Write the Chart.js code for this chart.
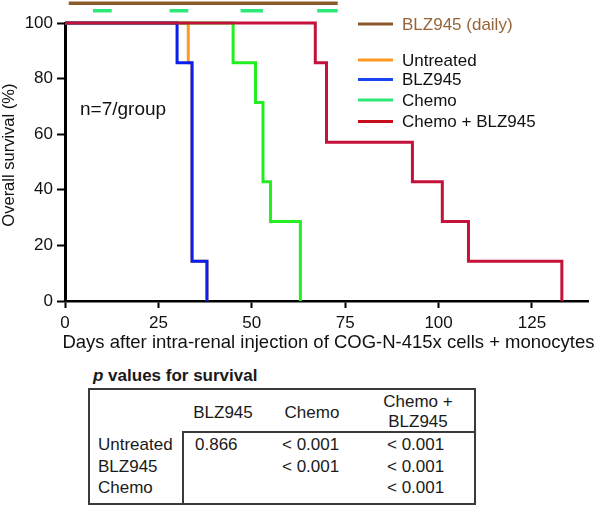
<!DOCTYPE html>
<html><head><meta charset="utf-8">
<script src="https://cdn.jsdelivr.net/npm/chart.js@4"></script>
<style>
html,body{margin:0;padding:0;background:#fff;}
#wrap{position:relative;width:600px;height:507px;overflow:hidden;font-family:"Liberation Sans",Arial,sans-serif;color:#1a1a1a;}
#c{position:absolute;left:0;top:0;}
.t{position:absolute;white-space:nowrap;font-size:17px;line-height:20px;height:20px;}
.ln{position:absolute;background:#3a3a3a;}
</style></head>
<body><div id="wrap"><canvas id="c" width="600" height="360"></canvas><div id="tbl"></div></div>
<script>
// ---- data ----
const xTickValues = [0, 25, 50, 75, 100, 125];
const yTickValues = [0, 20, 40, 60, 80, 100];
const seriesNames = ['Untreated', 'BLZ945', 'Chemo', 'Chemo + BLZ945'];
const untreatedDays = [0, 33, 34, 38];
const untreatedSurvival = [100, 85.7, 14.3, 0];
const blzDays = [0, 30, 34, 38];
const blzSurvival = [100, 85.7, 14.3, 0];
const chemoDays = [0, 45, 51, 53, 55, 63];
const chemoSurvival = [100, 85.7, 71.4, 42.9, 28.6, 0];
const comboDays = [0, 67, 70, 93, 101, 108, 133];
const comboSurvival = [100, 85.7, 57.1, 42.9, 28.6, 14.3, 0];
const blzDailyLabel = 'BLZ945 (daily)';
const blzDailySpan = [1, 73];
const chemoDoseStarts = [7.5, 28, 47, 67.5];
const chemoDoseEnds = [12.5, 33, 53, 73];
const groupNote = 'n=7/group';
const xTitle = 'Days after intra-renal injection of COG-N-415x cells + monocytes';
const yTitle = 'Overall survival (%)';
const tableTitleP = 'p';
const tableTitleRest = ' values for survival';
const tableColumns = [['BLZ945'], ['Chemo'], ['Chemo +', 'BLZ945']];
const tableRows = ['Untreated', 'BLZ945', 'Chemo'];
const pValues = [['0.866', '< 0.001', '< 0.001'], ['', '< 0.001', '< 0.001'], ['', '', '< 0.001']];

// ---- styles ----
const C_ORANGE = '#ff991f', C_BLUE = '#0a1ef0', C_GREEN = '#22ee22', C_RED = '#c4123a';
const C_BROWN = '#8b5a2b', C_BROWN_TXT = '#956439', C_DOSE = '#2ee87a';
const BAR_Y = 107.1, DOSE_Y = 104.4;
const FONT = '"Liberation Sans", Arial, sans-serif';

const pts = (xs, ys) => xs.map((x, i) => ({x, y: ys[i]}));
const base = {pointRadius: 0, borderWidth: 3, clip: false, fill: false, tension: 0, stepped: true, borderCapStyle: 'butt', borderJoinStyle: 'miter'};

const overlay = {
  id: 'overlay',
  afterDatasetsDraw(chart) {
    const ctx = chart.ctx;
    ctx.save();
    const items = [
      {label: blzDailyLabel, color: C_BROWN, text: C_BROWN_TXT, y: 24},
      {label: seriesNames[0], color: C_ORANGE, text: '#111', y: 60},
      {label: seriesNames[1], color: '#1a44f0', text: '#111', y: 79.5},
      {label: seriesNames[2], color: C_DOSE, text: '#111', y: 100},
      {label: seriesNames[3], color: '#c80f1e', text: '#111', y: 121.5}
    ];
    ctx.font = '17px ' + FONT;
    ctx.textBaseline = 'middle';
    ctx.textAlign = 'left';
    items.forEach(it => {
      ctx.strokeStyle = it.color;
      ctx.lineWidth = 3;
      ctx.beginPath();
      ctx.moveTo(358, it.y);
      ctx.lineTo(393, it.y);
      ctx.stroke();
      ctx.fillStyle = it.text;
      ctx.fillText(it.label, 402, it.y + 1);
    });
    ctx.font = '19px ' + FONT;
    ctx.fillStyle = '#111';
    ctx.fillText(groupNote, 80, 110);
    // x-axis title (drawn without width compression)
    ctx.font = '18.5px ' + FONT;
    ctx.textAlign = 'center';
    const xs = chart.scales.x;
    ctx.fillText(xTitle, (xs.left + xs.right) / 2 + 2, 343);
    ctx.restore();
  }
};

new Chart(document.getElementById('c'), {
  type: 'line',
  data: {
    datasets: [
      Object.assign({}, base, {label: seriesNames[3], data: pts(comboDays, comboSurvival), borderColor: C_RED, order: 0}),
      Object.assign({}, base, {label: seriesNames[1], data: pts(blzDays, blzSurvival), borderColor: C_BLUE, order: 1}),
      Object.assign({}, base, {label: seriesNames[2], data: pts(chemoDays, chemoSurvival), borderColor: C_GREEN, order: 2}),
      Object.assign({}, base, {label: seriesNames[0], data: pts(untreatedDays, untreatedSurvival), borderColor: C_ORANGE, order: 3}),
      Object.assign({}, base, {label: blzDailyLabel, stepped: false, borderWidth: 3.5, data: blzDailySpan.map(x => ({x, y: BAR_Y})), borderColor: C_BROWN, order: 4}),
      Object.assign({}, base, {label: 'Chemo dosing', stepped: false, spanGaps: false, borderWidth: 3.5,
        data: chemoDoseStarts.flatMap((s, i) => [{x: s, y: DOSE_Y}, {x: chemoDoseEnds[i], y: DOSE_Y}, {x: chemoDoseEnds[i] + 1, y: null}]),
        borderColor: C_DOSE, order: 5})
    ]
  },
  options: {
    responsive: false,
    animation: false,
    devicePixelRatio: 1,
    layout: {padding: {top: 23, right: 12, left: 0, bottom: 0}},
    plugins: {legend: {display: false}, tooltip: {enabled: false}},
    scales: {
      x: {
        type: 'linear', min: 0, max: 140,
        afterFit: s => { s.height = 59; },
        afterBuildTicks: s => { s.ticks = xTickValues.map(v => ({value: v})); },
        border: {display: true, color: '#000', width: 2.5},
        grid: {display: true, drawOnChartArea: false, drawTicks: true, tickLength: 7, tickWidth: 2, tickColor: '#000'},
        ticks: {color: '#111', font: {family: FONT, size: 17}, padding: 5, maxRotation: 0},
        title: {display: false}
      },
      y: {
        type: 'linear', min: 0, max: 100,
        afterFit: s => { s.width = 65; },
        afterBuildTicks: s => { s.ticks = yTickValues.map(v => ({value: v})); },
        border: {display: true, color: '#000', width: 3},
        grid: {display: true, drawOnChartArea: false, drawTicks: true, tickLength: 8, tickWidth: 2, tickColor: '#000'},
        ticks: {color: '#111', font: {family: FONT, size: 17}, padding: 4},
        title: {display: true, text: '   ' + yTitle, color: '#111', font: {family: FONT, size: 16.5}, padding: {top: 0, bottom: 0}}
      }
    }
  },
  plugins: [overlay]
});

// ---- p-value table (HTML text) ----
const tbl = document.getElementById('tbl');
function addText(txt, left, cy, opts) {
  const d = document.createElement('div');
  d.className = 't';
  d.style.top = (cy - 10) + 'px';
  if (opts && opts.center) { d.style.left = (left - 60) + 'px'; d.style.width = '120px'; d.style.textAlign = 'center'; }
  else d.style.left = left + 'px';
  if (opts && opts.html) d.innerHTML = txt; else d.textContent = txt;
  if (opts && opts.bold) d.style.fontWeight = 'bold';
  tbl.appendChild(d);
}
function addLine(l, t, w, h) {
  const d = document.createElement('div');
  d.className = 'ln';
  Object.assign(d.style, {left: l + 'px', top: t + 'px', width: w + 'px', height: h + 'px'});
  tbl.appendChild(d);
}
addText('<i>' + tableTitleP + '</i>' + tableTitleRest, 93, 376, {html: true, bold: true});
addLine(88, 388, 388, 2);
addLine(88, 503, 388, 2);
addLine(88, 388, 2, 117);
addLine(474, 388, 2, 117);
addLine(183, 431, 293, 2);
addLine(182, 431, 2, 74);
const colCenters = [223, 312, 418];
const valueLefts = [195, 282, 387];
const rowYs = [445, 467, 488];
tableColumns.forEach((lines, j) => {
  if (lines.length === 1) addText(lines[0], colCenters[j], 413, {center: true});
  else lines.forEach((ln, k) => addText(ln, colCenters[j], 402 + k * 20, {center: true}));
});
tableRows.forEach((r, i) => {
  addText(r, 98, rowYs[i]);
  pValues[i].forEach((v, j) => { if (v) addText(v, valueLefts[j], rowYs[i]); });
});
</script></body></html>
